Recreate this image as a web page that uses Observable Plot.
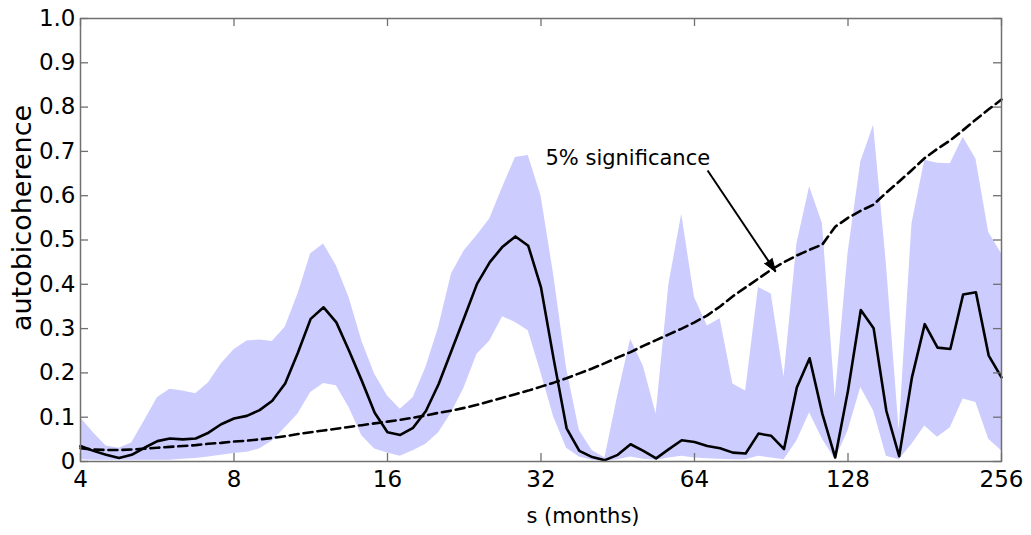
<!DOCTYPE html>
<html><head><meta charset="utf-8">
<script src="https://cdn.jsdelivr.net/npm/d3@7"></script>
<script src="https://cdn.jsdelivr.net/npm/@observablehq/plot@0.6"></script>
<style>html,body{margin:0;padding:0;background:#fff}</style>
</head><body><div id="chart"></div>
<script>
// scale s (months), 12 samples per octave
const scales = [4.00,4.24,4.49,4.76,5.04,5.34,5.66,5.99,6.35,6.73,7.13,7.55,
  8.00,8.48,8.98,9.51,10.08,10.68,11.31,11.99,12.70,13.45,14.25,15.10,
  16.00,16.95,17.96,19.03,20.16,21.36,22.63,23.97,25.40,26.91,28.51,30.21,
  32.00,33.90,35.92,38.05,40.32,42.71,45.25,47.95,50.80,53.82,57.02,60.41,
  64.00,67.81,71.84,76.11,80.63,85.43,90.51,95.89,101.59,107.63,114.04,120.82,
  128.00,135.61,143.68,152.22,161.27,170.86,181.02,191.78,203.19,215.27,228.07,241.63,256.00];
// mean autobicoherence
const mean = [0.035,0.024,0.015,0.008,0.015,0.031,0.046,0.052,0.050,0.052,0.065,0.084,
  0.097,0.103,0.116,0.137,0.176,0.246,0.322,0.348,0.314,0.250,0.182,0.110,
  0.066,0.060,0.076,0.114,0.175,0.250,0.325,0.401,0.450,0.485,0.508,0.487,
  0.393,0.230,0.075,0.024,0.010,0.003,0.015,0.039,0.024,0.007,0.028,0.048,
  0.044,0.035,0.030,0.020,0.018,0.063,0.058,0.028,0.167,0.233,0.107,0.009,
  0.160,0.342,0.301,0.114,0.012,0.190,0.310,0.257,0.254,0.377,0.382,0.239,0.190];
// band upper bound
const upper = [0.099,0.065,0.035,0.030,0.042,0.092,0.144,0.163,0.159,0.153,0.178,0.220,
  0.252,0.272,0.274,0.271,0.303,0.378,0.469,0.491,0.442,0.370,0.272,0.197,
  0.148,0.118,0.144,0.212,0.303,0.423,0.476,0.510,0.548,0.619,0.686,0.691,
  0.600,0.420,0.210,0.070,0.025,0.008,0.148,0.276,0.215,0.107,0.400,0.558,
  0.370,0.306,0.322,0.175,0.159,0.393,0.378,0.190,0.490,0.620,0.537,0.144,
  0.469,0.676,0.759,0.446,0.069,0.536,0.680,0.673,0.672,0.732,0.683,0.517,0.469];
// band lower bound
const lower = [0.004,0.003,0.003,0.003,0.003,0.003,0.003,0.003,0.005,0.007,0.010,0.014,
  0.018,0.021,0.028,0.046,0.076,0.107,0.156,0.176,0.171,0.122,0.058,0.028,
  0.019,0.012,0.024,0.039,0.065,0.110,0.167,0.242,0.272,0.327,0.314,0.295,
  0.200,0.100,0.030,0.010,0.003,0.000,0.004,0.010,0.005,0.003,0.008,0.012,
  0.008,0.006,0.005,0.004,0.004,0.012,0.008,0.004,0.046,0.110,0.050,0.005,
  0.069,0.167,0.114,0.012,0.004,0.039,0.080,0.055,0.076,0.141,0.133,0.050,0.024];
// 5% significance level
const significance = [0.030,0.027,0.026,0.026,0.027,0.029,0.031,0.033,0.035,0.037,0.040,0.042,
  0.045,0.047,0.050,0.053,0.057,0.062,0.066,0.070,0.074,0.078,0.082,0.086,
  0.090,0.094,0.099,0.104,0.110,0.115,0.121,0.128,0.136,0.144,0.152,0.160,
  0.169,0.178,0.188,0.199,0.210,0.222,0.235,0.247,0.261,0.274,0.287,0.300,
  0.314,0.330,0.350,0.373,0.393,0.413,0.433,0.450,0.465,0.478,0.490,0.530,
  0.550,0.566,0.580,0.607,0.632,0.658,0.685,0.706,0.725,0.748,0.772,0.795,0.817];

const xTicks = [4, 8, 16, 32, 64, 128, 256];
const yTicks = [0, 0.1, 0.2, 0.3, 0.4, 0.5, 0.6, 0.7, 0.8, 0.9, 1.0];
const xLabel = "s (months)";
const yLabel = "autobicoherence";
const annotation = [{text: "5% significance", x: 32.65, y: 0.684}];
const arrowSpec = [{x1: 67.9, y1: 0.657, x2: 92.3, y2: 0.4285}];

const data = scales.map((s, i) => ({s, mean: mean[i], hi: upper[i], lo: lower[i], sig: significance[i]}));

const W = 1031, H = 535, ML = 80, MR = 30, MT = 18, MB = 74;
const frameW = W - ML - MR, frameH = H - MT - MB, tickLen = 8;
const axisColor = "#707070";

// screen-space direction of the annotation arrow (for its filled head)
const sx = Plot.scale({x: {type: "log", base: 2, domain: [4, 256], range: [ML, W - MR]}});
const sy = Plot.scale({y: {domain: [0, 1], range: [H - MB, MT]}});
const a = arrowSpec[0];
const headAngle = Math.atan2(sx.apply(a.x2) - sx.apply(a.x1), -(sy.apply(a.y2) - sy.apply(a.y1))) * 180 / Math.PI;

const chart = Plot.plot({
  width: W, height: H,
  marginLeft: ML, marginRight: MR, marginTop: MT, marginBottom: MB,
  style: {fontFamily: "'DejaVu Sans', sans-serif", fontSize: "23px", color: "black", background: "white"},
  x: {type: "log", base: 2, domain: [4, 256], axis: null},
  y: {domain: [0, 1], axis: null},
  marks: [
    Plot.areaY(data, {x: "s", y1: "lo", y2: "hi", fill: "#ccccff"}),
    Plot.line(data, {x: "s", y: "sig", stroke: "black", strokeWidth: 2.6, strokeDasharray: "9,5"}),
    Plot.line(data, {x: "s", y: "mean", stroke: "black", strokeWidth: 2.6}),
    Plot.frame({stroke: axisColor, strokeWidth: 1.5}),
    // inward ticks on all four sides
    Plot.ruleX(xTicks, {x: d => d, y1: 1, y2: 0, insetTop: frameH - tickLen, stroke: axisColor, strokeWidth: 1.3}),
    Plot.ruleX(xTicks, {x: d => d, y1: 1, y2: 0, insetBottom: frameH - tickLen, stroke: axisColor, strokeWidth: 1.3}),
    Plot.ruleY(yTicks, {y: d => d, x1: 4, x2: 256, insetRight: frameW - tickLen, stroke: axisColor, strokeWidth: 1.3}),
    Plot.ruleY(yTicks, {y: d => d, x1: 4, x2: 256, insetLeft: frameW - tickLen, stroke: axisColor, strokeWidth: 1.3}),
    Plot.axisX({ticks: xTicks, tickSize: 0, tickPadding: 9, tickFormat: d => String(d), label: null, fontSize: 23}),
    Plot.axisY({ticks: yTicks, tickSize: 0, tickPadding: 5, tickFormat: d => d === 0 ? "0" : d.toFixed(1), label: null, fontSize: 23}),
    Plot.text(annotation, {x: "x", y: "y", text: "text", textAnchor: "start", fontSize: 21}),
    Plot.link(arrowSpec, {x1: "x1", y1: "y1", x2: "x2", y2: "y2", stroke: "black", strokeWidth: 2}),
    Plot.vector(arrowSpec, {x: "x2", y: "y2", length: 13, rotate: headAngle, anchor: "end", shape: "spike", r: 4.5, fill: "black", stroke: "black", strokeWidth: 1}),
    Plot.text([xLabel], {text: d => d, frameAnchor: "bottom", textAnchor: "middle", lineAnchor: "middle", dx: 42, dy: 55, fontSize: 21}),
    Plot.text([yLabel], {text: d => d, frameAnchor: "left", textAnchor: "middle", lineAnchor: "middle", dx: -58, dy: -22, rotate: -90, fontSize: 27})
  ]
});
document.getElementById("chart").appendChild(chart);
</script>
</body></html>
